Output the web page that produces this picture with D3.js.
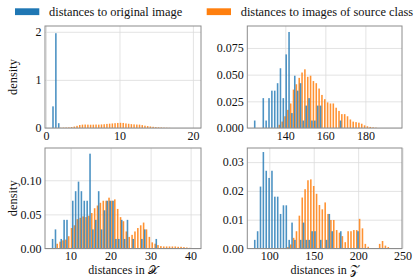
<!DOCTYPE html>
<html>
<head>
<meta charset="utf-8">
<script src="https://cdn.jsdelivr.net/npm/d3@7"></script>
<style>
  html, body { margin: 0; padding: 0; background: #fff; }
  svg { display: block; font-family: "Liberation Serif", "DejaVu Serif", serif; }
</style>
</head>
<body>
<div id="chart"></div>
<script>
const width = 415;
const height = 277;

// series names
const seriesNames = ['distances to original image', 'distances to images of source class'];

// top-left: distances in X, small sample (blue) vs source class (orange)
const blueTLStart = 0.95, blueTLBin = 0.39;
const blueTL = [0.45, 1.97, 0.10];
const orangeTLStart = 2.0, orangeTLBin = 0.37;
const orangeTL = [0.005, 0.008, 0.010, 0.012, 0.020, 0.030, 0.045, 0.062, 0.070, 0.072,
  0.070, 0.068, 0.070, 0.072, 0.070, 0.074, 0.078, 0.085, 0.090, 0.095,
  0.100, 0.105, 0.108, 0.105, 0.095, 0.088, 0.080, 0.075, 0.072, 0.070,
  0.060, 0.048, 0.040, 0.032, 0.025, 0.018, 0.014, 0.010, 0.007, 0.005, 0.003];

// top-right: distances in Z
const blueTRStart = 124.7, blueTRBin = 1.43;
const blueTR = [0.007, 0, 0, 0.028, 0.007, 0.028, 0.035, 0.035, 0.042, 0.056,
  0.028, 0.069, 0.090, 0.014, 0.049, 0.035, 0.042, 0.007, 0.021, 0.028,
  0.007, 0.007, 0.021, 0.021, 0, 0, 0, 0, 0, 0, 0.007];
const orangeTRStart = 137.0, orangeTRBin = 1.42;
const orangeTR = [0.003, 0.006, 0.011, 0.017, 0.023, 0.036, 0.041, 0.047, 0.052, 0.055,
  0.048, 0.049, 0.044, 0.042, 0.037, 0.031, 0.027, 0.024, 0.023, 0.023,
  0.019, 0.016, 0.013, 0.013, 0.011, 0.008, 0.006, 0.0055, 0.005, 0.004,
  0.0025, 0.0016, 0.001, 0.0006, 0.0003];

// bottom-left: distances in X
const blueBLStart = 5.5, blueBLBin = 0.72;
const blueBL = [0.014, 0.028, 0, 0.014, 0.042, 0.042, 0, 0.070, 0.084, 0.098,
  0.084, 0.070, 0.070, 0.139, 0.028, 0.042, 0.084, 0.028, 0.056, 0.070,
  0.070, 0.070, 0.014, 0.014, 0.042, 0.014, 0.042, 0, 0.014, 0,
  0, 0.014, 0.028, 0, 0, 0, 0.014];
const orangeBLStart = 6.65, orangeBLBin = 0.72;
const orangeBL = [0.007, 0.010, 0.012, 0.013, 0.018, 0.030, 0.034, 0.043, 0.045, 0.047,
  0.046, 0.048, 0.052, 0.059, 0.063, 0.067, 0.070, 0.070, 0.0745, 0.070,
  0.072, 0.058, 0.046, 0.040, 0.025, 0.017, 0.020, 0.025, 0.030, 0.034,
  0.038, 0.028, 0.017, 0.009, 0.007, 0.005, 0.0035, 0.003, 0.003, 0.003,
  0.003, 0.003, 0.0025, 0.0025, 0.002, 0.0015, 0.001];

// bottom-right: distances in Z
const blueBRStart = 83.6, blueBRBin = 3.23;
const blueBR = [0.003, 0.006, 0.0215, 0.0335, 0.027, 0.0245, 0.027, 0.018, 0.018, 0.012,
  0.015, 0.015, 0.003, 0.009, 0.003, 0, 0.003, 0.009, 0.003, 0.003,
  0.006, 0.006, 0, 0.003, 0, 0.003, 0.012, 0.006, 0, 0,
  0.006, 0, 0, 0, 0, 0, 0.006];
const orangeBRStart = 120.9, orangeBRBin = 3.23;
const orangeBR = [0.0005, 0.0014, 0.0037, 0.006, 0.0114, 0.0177, 0.0206, 0.0237, 0.024, 0.0217,
  0.019, 0.0151, 0.0136, 0.016, 0.012, 0.0099, 0.0099, 0.0064, 0.0055, 0.0043,
  0.0022, 0.006, 0.006, 0.0064, 0.0064, 0.0103, 0.007, 0.0016, 0.0006, 0,
  0, 0, 0.0016, 0.0026, 0.001, 0.0005];

// axis ticks
const xTicksTL = [0, 10, 20], yTicksTL = [0, 1, 2];
const xTicksTR = [140, 160, 180], yTicksTR = [0, 0.025, 0.05, 0.075];
const xTicksBL = [10, 20, 30, 40], yTicksBL = [0, 0.05, 0.10];
const xTicksBR = [100, 150, 200, 250], yTicksBR = [0, 0.01, 0.02, 0.03];

const blue = '#1f77b4';
const orange = '#ff7f0e';
const fontSize = 12.4;
const tickSize = 12;

const panels = [
  { x0: 45, x1: 201, y0: 26, y1: 128, xd: [-0.14, 21.1], yd: [0, 2.12],
    xt: xTicksTL, yt: yTicksTL, yf: d3.format('d'),
    blue: [blueTLStart, blueTLBin, blueTL], orange: [orangeTLStart, orangeTLBin, orangeTL],
    ylabel: 'density' },
  { x0: 247.3, x1: 402, y0: 26, y1: 128, xd: [121, 198.3], yd: [0, 0.0956],
    xt: xTicksTR, yt: yTicksTR, yf: d3.format('.3f'),
    blue: [blueTRStart, blueTRBin, blueTR], orange: [orangeTRStart, orangeTRBin, orangeTR] },
  { x0: 45, x1: 201, y0: 148, y1: 248.5, xd: [3.6, 42.6], yd: [0, 0.1473],
    xt: xTicksBL, yt: yTicksBL, yf: d3.format('.2f'),
    blue: [blueBLStart, blueBLBin, blueBL], orange: [orangeBLStart, orangeBLBin, orangeBL],
    ylabel: 'density', xlabel: 'distances in \u{1D4B3}' },
  { x0: 247.3, x1: 402, y0: 148, y1: 248.5, xd: [75.2, 249.4], yd: [0, 0.0349],
    xt: xTicksBR, yt: yTicksBR, yf: d3.format('.2f'),
    blue: [blueBRStart, blueBRBin, blueBR], orange: [orangeBRStart, orangeBRBin, orangeBR],
    xlabel: 'distances in \u{1D4B5}' },
];

const svg = d3.select('#chart').append('svg')
  .attr('width', width)
  .attr('height', height)
  .style('font-size', fontSize + 'px');

// legend
const legend = [[15, blue, 49, seriesNames[0]], [206.7, orange, 240.7, seriesNames[1]]];
legend.forEach(([rx, col, tx, label]) => {
  svg.append('rect').attr('x', rx).attr('y', 8.3).attr('width', 24.3).attr('height', 6.8).attr('fill', col);
  svg.append('text').attr('x', tx).attr('y', 16).attr('fill', '#111').text(label);
});

function drawBars(g, x, y, spec, col, opacity) {
  const [start, bin, vals] = spec;
  const bars = vals.map((v, i) => ({ c: start + i * bin, v }));
  const w = bin * 0.55;
  g.selectAll(null).data(bars.filter(d => d.v > 0)).join('rect')
    .attr('x', d => x(d.c - w / 2))
    .attr('width', d => x(d.c + w / 2) - x(d.c - w / 2))
    .attr('y', d => y(d.v))
    .attr('height', d => y(0) - y(d.v))
    .attr('fill', col)
    .attr('fill-opacity', opacity);
}

panels.forEach((p, k) => {
  const x = d3.scaleLinear().domain(p.xd).range([p.x0, p.x1]);
  const y = d3.scaleLinear().domain(p.yd).range([p.y1, p.y0]);
  const g = svg.append('g');

  // grid
  g.append('g')
    .attr('transform', `translate(0,${p.y1})`)
    .call(d3.axisBottom(x).tickValues(p.xt).tickSize(-(p.y1 - p.y0)).tickFormat(''))
    .call(a => a.select('.domain').remove())
    .call(a => a.selectAll('line').attr('stroke', '#dcdcdc').attr('stroke-width', 0.8));
  g.append('g')
    .attr('transform', `translate(${p.x0},0)`)
    .call(d3.axisLeft(y).tickValues(p.yt).tickSize(-(p.x1 - p.x0)).tickFormat(''))
    .call(a => a.select('.domain').remove())
    .call(a => a.selectAll('line').attr('stroke', '#dcdcdc').attr('stroke-width', 0.8));

  const clip = 'clip' + k;
  svg.append('clipPath').attr('id', clip)
    .append('rect').attr('x', p.x0).attr('y', p.y0).attr('width', p.x1 - p.x0).attr('height', p.y1 - p.y0);
  const bars = g.append('g').attr('clip-path', `url(#${clip})`);
  drawBars(bars, x, y, p.orange, orange, 0.85);
  drawBars(bars, x, y, p.blue, blue, 0.8);

  // frame
  g.append('rect')
    .attr('x', p.x0).attr('y', p.y0)
    .attr('width', p.x1 - p.x0).attr('height', p.y1 - p.y0)
    .attr('fill', 'none').attr('stroke', '#8c8c8c').attr('stroke-width', 1);

  // tick labels
  g.append('g')
    .attr('transform', `translate(0,${p.y1})`)
    .call(d3.axisBottom(x).tickValues(p.xt).tickSize(0).tickPadding(3))
    .call(a => a.select('.domain').remove())
    .call(a => a.selectAll('text').attr('fill', '#111').style('font-size', tickSize + 'px')
      .style('font-family', '"Liberation Serif", serif'));
  g.append('g')
    .attr('transform', `translate(${p.x0},0)`)
    .call(d3.axisLeft(y).tickValues(p.yt).tickSize(0).tickPadding(3.5).tickFormat(p.yf))
    .call(a => a.select('.domain').remove())
    .call(a => a.selectAll('text').attr('fill', '#111').style('font-size', tickSize + 'px')
      .style('font-family', '"Liberation Serif", serif'));

  if (p.ylabel) {
    g.append('text')
      .attr('transform', `translate(17,${(p.y0 + p.y1) / 2}) rotate(-90)`)
      .attr('text-anchor', 'middle')
      .attr('fill', '#111')
      .text(p.ylabel);
  }
  if (p.xlabel) {
    g.append('text')
      .attr('x', (p.x0 + p.x1) / 2)
      .attr('y', 274)
      .attr('text-anchor', 'middle')
      .attr('fill', '#111')
      .style('font-size', '12px')
      .text(p.xlabel);
  }
});
</script>
</body>
</html>
